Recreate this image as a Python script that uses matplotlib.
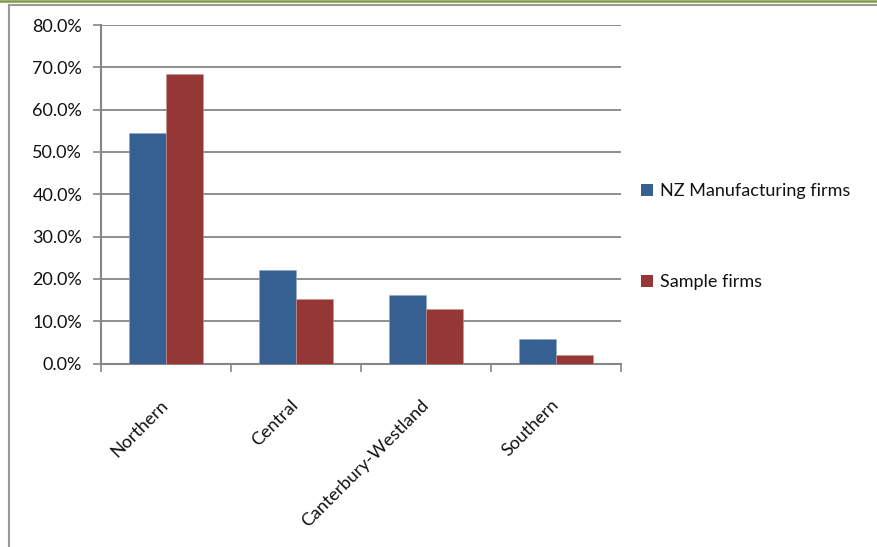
import matplotlib
matplotlib.use("Agg")
import matplotlib.pyplot as plt
import numpy as np
from matplotlib.lines import Line2D
from matplotlib.patches import Patch
from matplotlib.ticker import PercentFormatter, FixedLocator

plt.rcParams['font.family'] = ['Lato', 'DejaVu Sans']

regions = ["Northern", "Central", "Canterbury-Westland", "Southern"]
nz_firms = [54.4, 22.2, 16.1, 5.7]
sample_firms = [68.4, 15.3, 12.8, 2.1]
series_names = ["NZ Manufacturing firms", "Sample firms"]
colors = ["#376092", "#953735"]

W, H = 878, 547
fig = plt.figure(figsize=(W / 100, H / 100), dpi=100)
ax = fig.add_axes([101 / W, 1 - 363.5 / H, 520 / W, 338.5 / H])

x = np.arange(len(regions))
bw = 1 / 3.5
ax.bar(x - bw / 2, nz_firms, bw, color=colors[0], edgecolor="#8fa8c8", linewidth=0.4, zorder=3)
ax.bar(x + bw / 2, sample_firms, bw, color=colors[1], edgecolor="#c99593", linewidth=0.4, zorder=3)

ax.set_xlim(-0.5, len(regions) - 0.5)
ax.set_ylim(0, 80)
ax.set_yticks(np.arange(0, 81, 10))
ax.yaxis.set_major_formatter(PercentFormatter(decimals=1))
grid_c = "#868686"
ax.yaxis.grid(True, color=grid_c, linewidth=1.3, zorder=0)
for s in ["top", "right"]:
    ax.spines[s].set_visible(False)
for s in ["left", "bottom"]:
    ax.spines[s].set_color(grid_c)
    ax.spines[s].set_linewidth(1.5)
ax.tick_params(axis="y", length=6, width=1.2, color=grid_c, labelsize=13, pad=7.5, labelcolor="#111111")

ax.set_xticks(x)
ax.set_xticklabels(regions, rotation=45, ha="right", va="center", rotation_mode="anchor",
                   fontsize=13, color="#111111")
ax.tick_params(axis="x", which="major", length=0, pad=28)
ax.xaxis.set_minor_locator(FixedLocator(np.arange(-0.5, len(regions), 1.0)))
ax.tick_params(axis="x", which="minor", length=6, width=1.2, color=grid_c)

handles = [Patch(facecolor=c, edgecolor="none") for c in colors]
leg = fig.legend(handles, series_names, loc="upper left", bbox_to_anchor=(632 / W, 1 - 174 / H),
                 frameon=False, fontsize=13, handlelength=0.65, handleheight=0.65,
                 handletextpad=0.4, labelspacing=4.15, borderpad=0)
for t in leg.get_texts():
    t.set_color("#111111")

# chart frame
fig.add_artist(Line2D([0, 1], [1 - 0.8 / H, 1 - 0.8 / H], transform=fig.transFigure, color="#7f9a48", linewidth=1.8))
fig.add_artist(Line2D([8.5 / W, 1], [1 - 4.5 / H, 1 - 4.5 / H], transform=fig.transFigure, color="#9a9a9a", linewidth=1.5))
fig.add_artist(Line2D([8.5 / W, 8.5 / W], [0, 1 - 4.5 / H], transform=fig.transFigure, color="#9a9a9a", linewidth=1.5))

fig.savefig("out.png", dpi=100)
